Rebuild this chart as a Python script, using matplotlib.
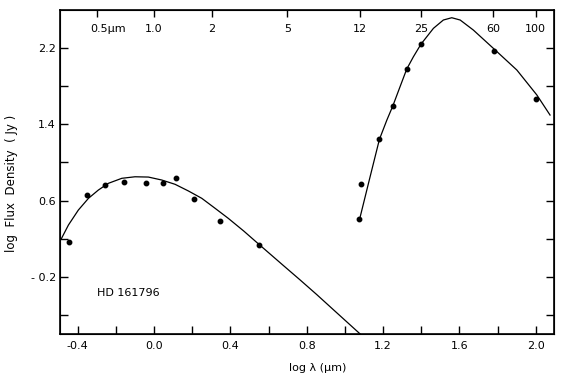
import numpy as np
import matplotlib
matplotlib.use("Agg")
import matplotlib.pyplot as plt
from matplotlib.transforms import blended_transform_factory

# observed photometry (log lambda [um], log F [Jy])
opt_x = [-0.444, -0.351, -0.258, -0.157, -0.042, 0.049, 0.115, 0.211, 0.344, 0.550]
opt_y = [0.162, 0.661, 0.759, 0.791, 0.783, 0.780, 0.833, 0.613, 0.382, 0.130]
ir_x = [1.076, 1.083, 1.179, 1.253, 1.324, 1.401, 1.782, 2.002]
ir_y = [0.403, 0.776, 1.242, 1.594, 1.978, 2.244, 2.170, 1.664]

# model curves
star_x = [-0.487, -0.449, -0.397, -0.344, -0.292, -0.240, -0.169, -0.100,
          -0.030, 0.040, 0.110, 0.180, 0.250, 0.320, 0.389, 0.470, 0.550,
          0.678, 0.765, 0.852, 0.940, 1.080]
star_y = [0.196, 0.343, 0.500, 0.623, 0.710, 0.780, 0.833, 0.849,
          0.846, 0.815, 0.770, 0.700, 0.623, 0.518, 0.413, 0.280, 0.140,
          -0.082, -0.232, -0.385, -0.545, -0.799]
dust_x = [1.076, 1.132, 1.181, 1.220, 1.251, 1.289, 1.324, 1.359, 1.399,
          1.464, 1.516, 1.560, 1.604, 1.673, 1.778, 1.901, 2.006, 2.075]
dust_y = [0.396, 0.849, 1.242, 1.444, 1.591, 1.793, 1.978, 2.107, 2.240,
          2.405, 2.492, 2.516, 2.492, 2.387, 2.195, 1.968, 1.706, 1.496]

# wavelength labels along the top
wl_vals = [0.5, 1.0, 2, 5, 12, 25, 60, 100]
wl_labels = ["0.5\u00b5m", "1.0", "2", "5", "12", "25", "60", "100"]

x_ticks = [-0.4, 0.0, 0.4, 0.8, 1.2, 1.6, 2.0]
x_ticklabels = ["-0.4", "0.0", "0.4", "0.8", "1.2", "1.6", "2.0"]
y_ticks = [-0.2, 0.6, 1.4, 2.2]
y_ticklabels = ["- 0.2", "0.6", "1.4", "2.2"]

plt.rcParams["font.family"] = ["DejaVu Sans"]
plt.rcParams["font.size"] = 8

fig = plt.figure(figsize=(5.7, 3.86), dpi=100)
ax = fig.add_axes([0.1053, 0.1347, 0.8667, 0.8394])

ax.plot(star_x, star_y, color="black", lw=0.9)
ax.plot(dust_x, dust_y, color="black", lw=0.9)
ax.plot(opt_x, opt_y, "o", color="black", ms=3.2)
ax.plot(ir_x, ir_y, "o", color="black", ms=3.2)

ax.set_xlim(-0.493, 2.096)
ax.set_ylim(-0.799, 2.597)

ax.set_xticks(x_ticks)
ax.set_xticklabels(x_ticklabels)
ax.set_xticks(np.arange(-0.2, 2.0, 0.4), minor=True)
ax.set_yticks(y_ticks)
ax.set_yticklabels(y_ticklabels)
ax.set_yticks([-0.6, 0.2, 1.0, 1.8], minor=True)
ax.tick_params(which="both", direction="in", length=6, width=1.0,
               right=True, top=False, pad=5)
ax.tick_params(axis="y", pad=3)

for s in ax.spines.values():
    s.set_linewidth(1.2)

# top axis in wavelength
top = ax.twiny()
top.set_xlim(ax.get_xlim())
top.set_xticks(np.log10(wl_vals))
top.set_xticklabels([])
top.tick_params(direction="in", length=5, width=1.0)

trans = blended_transform_factory(ax.transData, ax.transAxes)
for v, lab in zip(wl_vals, wl_labels):
    if lab.endswith("m"):
        ax.text(np.log10(v) - 0.035, 0.94, lab, transform=trans,
                ha="left", va="center")
    else:
        ax.text(np.log10(v), 0.94, lab, transform=trans,
                ha="center", va="center")

ax.text(-0.30, -0.37, "HD 161796", ha="left", va="center")

fig.text(318 / 570, 1 - 368 / 386, "log \u03bb (\u00b5m)", ha="center", va="center")
fig.text(12 / 570, 1 - 183 / 386, "log  Flux  Density  ( Jy )",
         rotation=90, ha="center", va="center", fontsize=8.5)

fig.savefig("out.png", dpi=100)
